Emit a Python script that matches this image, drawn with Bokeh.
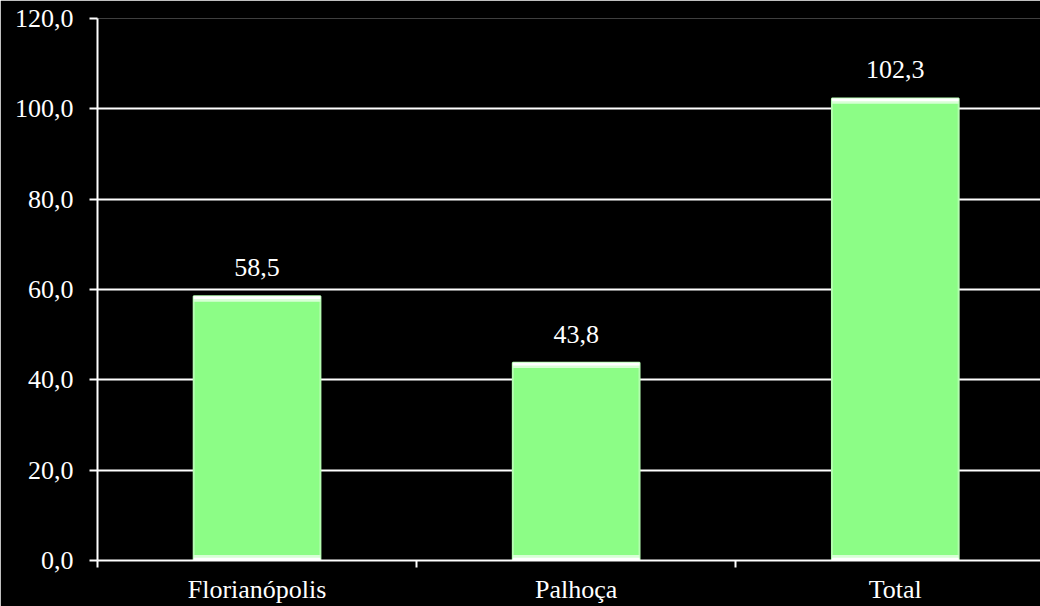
from bokeh.plotting import figure
from bokeh.models import Range1d, FixedTicker, ColumnDataSource, LabelSet
from bokeh.embed import file_html
from bokeh.resources import INLINE

categories = ["Florianópolis", "Palhoça", "Total"]
values = [58.5, 43.8, 102.3]
value_labels = ["58,5", "43,8", "102,3"]
y_ticks = [0, 20, 40, 60, 80, 100, 120]
y_tick_labels = ["0,0", "20,0", "40,0", "60,0", "80,0", "100,0", "120,0"]

FONT = "Liberation Serif"
FS = "26px"
xs = [i + 0.5 for i in range(len(categories))]

p = figure(width=1040, height=606, output_backend="svg", toolbar_location=None,
           x_range=Range1d(0, 2.955), y_range=Range1d(0, 120),
           min_border_left=97, min_border_right=0, min_border_top=18, min_border_bottom=46,
           background_fill_color="black", border_fill_color="black", outline_line_color=None)

src = ColumnDataSource(dict(x=xs, top=values, lab=value_labels,
                            hl1=[v - 1.2 for v in values],
                            hl2=[v - 0.6 for v in values]))
p.vbar(x="x", top="top", bottom=0, width=0.397, source=src,
       fill_color="#8cfd86", line_color="#b4fdb0", line_width=2)
p.vbar(x="x", top="top", bottom="hl1", width=0.397, source=src,
       fill_color="#d8ffd6", line_color=None)
p.vbar(x="x", top="top", bottom="hl2", width=0.397, source=src,
       fill_color="#ffffff", line_color=None)
p.vbar(x="x", top=1.2, bottom=0, width=0.397, source=src,
       fill_color="#d8ffd6", line_color=None)
p.vbar(x="x", top=0.6, bottom=0, width=0.397, source=src,
       fill_color="#ffffff", line_color=None)

labels = LabelSet(x="x", y="top", text="lab", source=src, text_align="center",
                  text_baseline="bottom", y_offset=20, text_color="white",
                  text_font=FONT, text_font_size=FS)
p.add_layout(labels)

# x axis
p.xaxis.ticker = FixedTicker(ticks=xs, minor_ticks=[0, 1, 2, 3])
p.xaxis.major_label_overrides = {x: c for x, c in zip(xs, categories)}
p.xaxis.major_tick_line_color = None
p.xaxis.minor_tick_in = 0
p.xaxis.minor_tick_out = 7
p.xaxis.minor_tick_line_color = "white"
p.xaxis.minor_tick_line_width = 2
p.xaxis.axis_line_color = "white"
p.xaxis.axis_line_width = 2
p.xaxis.major_label_text_color = "white"
p.xaxis.major_label_text_font = FONT
p.xaxis.major_label_text_font_size = FS
p.xaxis.major_label_standoff = 7

# y axis
p.yaxis.ticker = FixedTicker(ticks=y_ticks)
p.yaxis.major_label_overrides = {t: l for t, l in zip(y_ticks, y_tick_labels)}
p.yaxis.major_tick_in = 0
p.yaxis.major_tick_out = 8
p.yaxis.major_tick_line_color = "white"
p.yaxis.major_tick_line_width = 2
p.yaxis.minor_tick_line_color = None
p.yaxis.axis_line_color = "white"
p.yaxis.axis_line_width = 2
p.yaxis.major_label_text_color = "white"
p.yaxis.major_label_text_font = FONT
p.yaxis.major_label_text_font_size = FS
p.yaxis.major_label_standoff = 16

p.xgrid.grid_line_color = None
p.ygrid.grid_line_color = "white"
p.ygrid.grid_line_width = 2
p.ygrid.grid_line_alpha = 1.0

open("out.html", "w").write(file_html(p, INLINE))
